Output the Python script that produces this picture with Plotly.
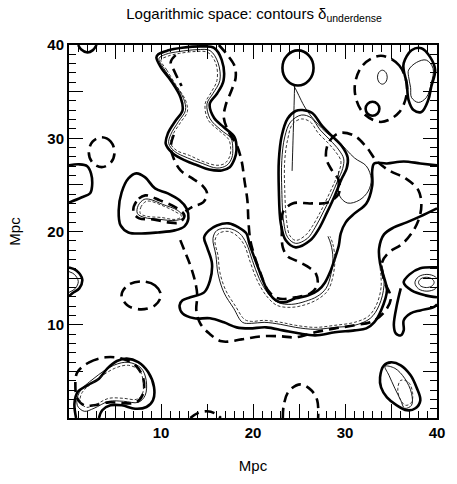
import plotly.graph_objects as go

# ---------------- data (Mpc) ----------------
# thick solid contours
ts_corner_x = [1.0, 1.3, 2.0, 2.6, 3.0]
ts_corner_y = [40.0, 39.55, 39.2, 39.45, 40.0]

ts_leftbump_x = [0, 1.12, 1.98, 2.4, 2.51, 2.3, 1.34, 0]
ts_leftbump_y = [27.1, 27.2, 27.0, 26.2, 24.9, 24.1, 23.65, 23.1]

ts_loop_x = [6.46, 7.32, 8.28, 9.35, 10.74, 12.02, 12.77, 12.98, 12.55, 11.49, 9.67, 8.28, 6.46, 5.61, 5.4, 5.72, 6.46]
ts_loop_y = [25.69, 26.23, 25.8, 24.62, 24.09, 23.34, 22.48, 21.41, 20.55, 20.12, 19.9, 19.8, 19.9, 20.65, 22.26, 24.19, 25.69]

ts_tower_x = [9.5, 10.0, 11.06, 12.13, 12.34, 11.6, 10.74, 10.52, 11.27, 12.66, 13.94, 15.22, 16.6, 17.47, 18.0, 18.2, 18.0, 16.8, 15.76, 15.3, 16.1, 16.8, 16.6, 15.76, 14.5, 12.3, 10.7, 9.7, 9.5]
ts_tower_y = [38.66, 37.59, 36.2, 34.37, 32.98, 31.9, 30.5, 29.4, 28.4, 27.6, 27.1, 26.65, 26.55, 26.9, 27.8, 28.7, 30.1, 31.2, 32.2, 33.7, 34.8, 36.2, 38.4, 39.7, 39.85, 39.7, 39.4, 39.0, 38.66]

ts_u_x = [40, 38.19, 36.7, 35.31, 34.24, 33.71, 33.81, 34.24, 34.56, 33.92, 33.17, 32.32, 31.04, 28.9, 26.76, 24.95, 23.24, 21.42, 19.6, 18.22, 16.83, 15.33, 13.62, 12.34, 12.02, 12.34, 13.19, 14.69, 15.33, 15.54, 15.01, 14.69, 15.22, 16.08, 17.36, 18.43, 19.28, 19.6, 20.14, 20.67, 21.21, 21.74, 22.49, 23.34, 24.63, 26.02, 27.08, 27.83, 28.37, 28.9, 29.33, 29.54, 30.08, 31.04, 32.32, 32.96, 32.96, 33.17, 34.56, 36.38, 38.19, 40]
ts_u_y = [22.48, 21.62, 20.98, 20.44, 19.69, 18.19, 16.58, 15.08, 13.69, 11.54, 10.26, 9.61, 9.4, 9.19, 8.86, 9.08, 9.4, 9.72, 9.61, 9.72, 10.26, 10.69, 10.69, 11.22, 12.08, 12.62, 12.94, 13.47, 14.76, 16.58, 18.3, 19.37, 20.12, 20.65, 20.87, 20.44, 19.8, 18.73, 17.22, 15.83, 14.44, 13.37, 12.62, 12.4, 12.83, 13.15, 13.69, 14.54, 15.62, 17.12, 18.51, 19.8, 20.98, 21.94, 23.01, 24.94, 26.55, 27.3, 27.3, 27.51, 27.3, 27.09]

ts_rtower_x = [25.37, 26.44, 27.51, 28.58, 29.65, 30.29, 30.18, 29.65, 28.9, 28.05, 27.19, 26.23, 24.63, 23.56, 23.02, 22.81, 22.81, 23.13, 23.77, 24.63, 25.37]
ts_rtower_y = [33.03, 32.71, 31.32, 30.25, 29.18, 27.94, 26.76, 25.69, 23.87, 22.05, 20.33, 19.05, 18.3, 19.05, 20.87, 24.41, 27.62, 30.3, 32.12, 32.92, 33.03]

ts_topcircle_x = [26.58, 26.08, 24.89, 23.7, 23.2, 23.7, 24.89, 26.08, 26.58]
ts_topcircle_y = [37.54, 38.87, 39.42, 38.87, 37.54, 36.21, 35.66, 36.21, 37.54]

ts_smallcircle_x = [33.74, 33.52, 32.99, 32.46, 32.24, 32.46, 32.99, 33.52, 33.74]
ts_smallcircle_y = [33.16, 33.69, 33.91, 33.69, 33.16, 32.63, 32.41, 32.63, 33.16]

ts_troval_x = [36.38, 37.23, 38.3, 39.26, 39.8, 39.37, 39.05, 38.3, 37.45, 36.91, 36.7, 36.38, 36.38]
ts_troval_y = [38.06, 39.44, 39.66, 38.7, 37.31, 35.5, 34.1, 32.82, 33.03, 34.1, 35.92, 37.31, 38.06]

ts_leftedge_x = [0, 0.8, 1.44, 1.12, 0.37, 0]
ts_leftedge_y = [16.15, 15.83, 14.86, 13.9, 13.37, 13.04]

ts_rightedge_x = [40, 38.19, 37.02, 36.38, 37.23, 38.73, 40]
ts_rightedge_y = [16.15, 16.05, 15.4, 14.54, 13.69, 13.15, 12.94]

ts_hook_x = [36.06, 35.63, 35.31, 35.52, 36.06, 36.38, 36.38, 37.13, 38.19, 39.58, 40]
ts_hook_y = [13.9, 12.08, 9.94, 9.08, 8.86, 9.4, 10.47, 11.22, 11.54, 11.87, 12.19]

ts_blblob_x = [0.77, 0.59, 0.94, 2.01, 3.26, 4.15, 5.21, 6.28, 7.53, 8.6, 9.24, 9.13, 8.42, 7.18, 5.75, 4.51, 3.61, 3.26]
ts_blblob_y = [0, 1.54, 2.79, 3.5, 4.22, 5.29, 6.11, 6.37, 6.0, 4.93, 3.32, 1.9, 1.18, 1.0, 1.36, 1.36, 0.83, 0]

ts_brellipse_x = [34.24, 34.99, 36.06, 37.13, 37.77, 38.19, 37.66, 36.7, 35.63, 34.56, 33.92, 33.81, 34.24]
ts_brellipse_y = [5.65, 5.97, 5.65, 4.58, 3.29, 1.9, 1.04, 0.83, 1.36, 2.22, 3.29, 4.36, 5.65]

# thick dashed contours
td_leftcircle_x = [4.95, 4.54, 3.55, 2.56, 2.15, 2.56, 3.55, 4.54, 4.95]
td_leftcircle_y = [28.5, 29.63, 30.1, 29.63, 28.5, 27.37, 26.9, 27.37, 28.5]

td_lowellipse_x = [9.99, 9.36, 7.85, 6.34, 5.71, 6.34, 7.85, 9.36, 9.99]
td_lowellipse_y = [13.15, 14.21, 14.65, 14.21, 13.15, 12.09, 11.65, 12.09, 13.15]

td_trcircle_x = [36.75, 35.9, 33.9, 31.9, 31.05, 31.9, 33.9, 35.9, 36.75]
td_trcircle_y = [35.3, 37.8, 38.85, 37.8, 35.3, 32.8, 31.75, 32.8, 35.3]

td_loop_x = [8.28, 7.32, 7.0, 7.64, 9.13, 10.74, 12.02, 12.55, 11.59, 9.88, 8.28]
td_loop_y = [23.87, 23.23, 22.05, 21.41, 21.3, 20.98, 20.98, 21.73, 22.58, 23.34, 23.87]

td_main_x = [16.29, 17.15, 18.0, 18.11, 17.68, 17.04, 16.83, 17.36, 18.22, 18.75, 19.07, 19.39, 19.5, 19.71, 20.14, 20.78, 21.63, 22.7, 24.63, 26.23, 26.98, 26.87, 25.91, 24.63, 23.77, 23.24, 23.13, 23.24, 24.3, 26.23, 28.15, 29.33, 29.33, 28.58, 27.94, 28.26, 29.43, 31.04, 32.32, 33.39, 34.78, 36.59, 37.98, 38.3, 37.98, 37.23, 36.16, 34.78, 34.03, 34.24, 34.99, 34.24, 32.96, 31.04, 28.9, 26.76, 24.63, 23.02, 20.89, 18.75, 16.61, 15.22, 14.26, 13.84, 13.94, 13.73, 13.19, 12.55, 12.02]
td_main_y = [40.0, 39.02, 37.74, 36.46, 35.17, 33.57, 32.18, 30.68, 29.29, 27.62, 25.48, 23.34, 21.19, 19.05, 17.44, 15.62, 13.69, 12.83, 12.94, 13.37, 14.22, 15.4, 16.26, 16.9, 17.33, 18.3, 20.12, 22.05, 23.01, 23.01, 23.12, 24.09, 25.48, 26.55, 27.94, 29.61, 30.57, 30.25, 29.07, 27.62, 26.55, 25.69, 24.41, 22.8, 21.19, 19.8, 18.62, 17.76, 16.69, 14.76, 12.83, 11.33, 10.36, 9.94, 9.61, 9.19, 8.65, 8.76, 8.76, 8.43, 8.22, 9.08, 10.15, 11.54, 13.15, 14.54, 16.37, 17.97, 19.26]

td_towerleft_x = [11.38, 11.06, 11.38, 12.13, 13.41, 14.48, 15.01, 14.58, 13.51, 12.66]
td_towerleft_y = [30.36, 29.07, 27.84, 26.55, 25.69, 24.94, 24.09, 23.12, 22.69, 22.16]

td_towertop_x = [11.59, 11.06, 11.49, 12.24]
td_towertop_y = [38.91, 38.16, 37.1, 35.6]

td_blblob_x = [0.9, 2.19, 4.0, 5.61, 7.21, 8.07, 8.07, 7.32, 5.93, 4.33, 2.72, 1.66, 0.9, 0.69, 0.9]
td_blblob_y = [4.9, 5.97, 6.51, 6.4, 5.65, 4.26, 2.65, 1.68, 1.58, 1.68, 1.36, 1.36, 2.11, 3.5, 4.9]

td_arc1_x = [13.19, 13.94, 15.01, 15.87, 16.51]
td_arc1_y = [0, 0.5, 0.72, 0.5, 0]

td_arc2_x = [23.24, 23.34, 23.88, 25.16, 26.34, 26.98, 27.08]
td_arc2_y = [0, 1.36, 2.86, 3.61, 2.97, 1.9, 0]

# thin solid contours
tn_tower_x = [9.78, 10.31, 11.38, 12.45, 12.66, 11.91, 11.06, 10.84, 11.49, 12.87, 14.48, 16.08, 17.15, 17.7, 17.8, 17.6, 16.5, 15.33, 15.0, 15.65, 16.4, 16.2, 15.33, 13.94, 12.0, 10.5, 9.78]
tn_tower_y = [38.55, 37.48, 35.98, 34.27, 32.98, 31.8, 30.4, 29.44, 28.58, 27.9, 27.3, 26.8, 27.1, 27.9, 28.9, 30.0, 30.9, 32.1, 33.7, 34.8, 36.2, 38.1, 39.4, 39.5, 39.3, 39.0, 38.55]

tn_loop_x = [8.17, 7.53, 7.43, 8.17, 9.88, 11.59, 12.45, 11.81, 10.2, 8.82, 8.17]
tn_loop_y = [23.44, 22.8, 21.94, 21.51, 21.3, 21.19, 21.51, 22.26, 22.9, 23.44, 23.44]

tn_rtower_x = [25.27, 26.34, 27.3, 28.37, 29.33, 29.86, 29.75, 29.22, 28.47, 27.62, 26.76, 25.91, 24.63, 23.77, 23.34, 23.13, 23.13, 23.45, 24.09, 25.27]
tn_rtower_y = [32.49, 32.18, 30.89, 29.82, 28.75, 27.79, 26.76, 25.48, 23.76, 22.05, 20.44, 19.26, 18.73, 19.37, 20.98, 24.41, 27.62, 30.14, 31.75, 32.49]

tn_u_x = [34.03, 34.24, 33.71, 32.75, 31.04, 28.9, 26.76, 24.63, 23.02, 21.21, 19.82, 18.86, 17.9, 16.83, 16.19, 15.97, 15.65, 16.08, 17.36, 18.54, 19.28, 19.93, 20.67, 21.63, 22.7, 24.2, 25.69, 26.98, 27.94, 28.47, 28.69, 28.47, 28.15]
tn_u_y = [16.37, 14.22, 12.08, 10.69, 9.94, 9.72, 9.51, 9.72, 10.04, 10.26, 10.15, 10.26, 11.76, 13.47, 15.51, 17.44, 19.26, 20.12, 20.33, 19.8, 18.73, 16.9, 14.97, 13.37, 12.4, 12.19, 12.51, 13.04, 13.9, 15.4, 17.12, 18.62, 19.48]

tn_diag_x = [24.3, 24.63, 25.69, 26.76, 28.15, 29.22, 31.04, 32.32, 32.85, 32.53, 31.57, 30.29, 29.43, 29.22, 29.33]
tn_diag_y = [35.82, 35.28, 33.24, 31.84, 30.46, 29.71, 27.88, 27.02, 25.63, 24.34, 23.37, 23.05, 23.8, 25.4, 26.48]

tn_vert_x = [24.52, 24.45, 24.35, 24.25]
tn_vert_y = [35.6, 33.0, 29.8, 26.5]

tn_troval_x = [36.91, 37.77, 38.84, 39.58, 39.37, 38.84, 37.98, 37.23, 37.13, 36.91, 36.91]
tn_troval_y = [37.31, 38.13, 38.38, 37.48, 35.87, 34.37, 33.84, 34.37, 35.44, 36.62, 37.31]

tn_trsmall_x = [34.59, 34.43, 34.06, 33.69, 33.53, 33.69, 34.06, 34.43, 34.59]
tn_trsmall_y = [36.55, 37.08, 37.3, 37.08, 36.55, 36.02, 35.8, 36.02, 36.55]

tn_leftedge_x = [0, 0.59, 1.01, 0.69, 0]
tn_leftedge_y = [15.7, 15.4, 14.65, 13.9, 13.47]

tn_reA_x = [39.69, 39.44, 38.84, 38.24, 37.99, 38.24, 38.84, 39.44, 39.69]
tn_reA_y = [14.54, 14.93, 15.09, 14.93, 14.54, 14.15, 13.99, 14.15, 14.54]
tn_reB_x = [40.2, 39.82, 38.9, 37.98, 37.6, 37.98, 38.9, 39.82, 40.2]
tn_reB_y = [14.5, 15.14, 15.4, 15.14, 14.5, 13.86, 13.6, 13.86, 14.5]

tn_blblob_x = [1.12, 2.72, 4.86, 6.46, 7.85, 8.39, 8.28, 7.53, 5.93, 4.33, 2.72, 1.66, 0.9, 1.12]
tn_blblob_y = [2.75, 4.26, 5.65, 5.97, 5.33, 4.04, 2.43, 1.68, 1.79, 1.79, 1.04, 0.72, 1.36, 2.75]

tn_brellipse_x = [34.35, 35.42, 36.48, 37.23, 37.23, 36.48, 36.06, 35.42, 34.78, 34.35]
tn_brellipse_y = [5.54, 5.33, 4.26, 2.65, 1.36, 1.04, 1.9, 3.18, 4.58, 5.54]

# thin dashed contours
tdn_tower_x = [9.99, 10.63, 11.59, 12.66, 12.87, 12.13, 11.27, 11.06, 11.7, 13.09, 14.58, 16.08, 16.93, 17.47, 17.57, 17.36, 16.3, 15.1, 14.8, 15.44, 16.08, 15.97, 15.1, 13.7, 12.0, 10.74, 9.99]
tdn_tower_y = [38.38, 37.31, 35.76, 34.09, 32.87, 31.7, 30.35, 29.44, 28.69, 28.16, 27.5, 27.1, 27.3, 28.05, 28.9, 29.87, 30.83, 32.0, 33.7, 34.9, 36.2, 38.0, 39.2, 39.3, 39.1, 38.8, 38.38]

tdn_loop_x = [8.39, 7.85, 7.75, 8.5, 9.99, 11.59, 12.24, 11.49, 10.1, 8.92, 8.39]
tdn_loop_y = [23.23, 22.69, 21.94, 21.62, 21.51, 21.3, 21.62, 22.16, 22.8, 23.23, 23.23]

tdn_rtower_x = [25.27, 26.23, 27.08, 28.15, 28.99, 29.54, 29.43, 28.9, 28.15, 27.3, 26.44, 25.69, 24.63, 23.99, 23.66, 23.45, 23.45, 23.77, 24.3, 25.27]
tdn_rtower_y = [32.07, 31.75, 30.57, 29.5, 28.53, 27.62, 26.66, 25.37, 23.76, 22.05, 20.55, 19.58, 19.05, 19.58, 21.09, 24.41, 27.62, 29.87, 31.53, 32.07]

tdn_u_x = [33.81, 33.92, 33.39, 32.53, 31.04, 28.9, 26.76, 24.63, 23.02, 21.21, 19.82, 19.07, 18.11, 17.04, 16.4, 16.19, 15.87, 16.29, 17.36, 18.33, 19.07, 19.71, 20.46, 21.42, 22.6, 24.2, 25.8, 27.19, 28.15, 28.69, 28.9, 28.69, 28.37]
tdn_u_y = [16.15, 14.01, 12.08, 10.9, 10.26, 9.94, 9.72, 9.94, 10.26, 10.47, 10.36, 10.58, 11.97, 13.69, 15.62, 17.44, 19.05, 19.8, 20.01, 19.48, 18.51, 16.69, 14.76, 13.15, 12.08, 11.87, 12.19, 12.83, 13.69, 15.19, 17.01, 18.62, 19.48]

tdn_blblob_x = [1.44, 2.94, 4.97, 6.46, 7.64, 8.07, 7.96, 7.32, 5.93, 4.33, 2.94, 1.87, 1.23, 1.44]
tdn_blblob_y = [2.75, 4.04, 5.33, 5.65, 5.11, 3.93, 2.54, 2.0, 2.11, 2.11, 1.47, 1.15, 1.79, 2.75]

tdn_brinner_x = [36.06, 36.91, 37.34, 37.23, 36.59, 35.95, 35.74, 36.06]
tdn_brinner_y = [4.04, 3.82, 2.75, 1.68, 1.36, 2.11, 3.18, 4.04]

# axis ticks
major_ticks = [5, 10, 15, 20, 25, 30, 35, 40]
major_labels = [" ", "10", " ", "20", " ", "30", " ", "40"]

# ---------------- figure ----------------
STYLE = {
    "thick": dict(color="black", width=2.6, dash="solid"),
    "thickdash": dict(color="black", width=2.6, dash="10px,6px"),
    "thin": dict(color="black", width=0.9, dash="solid"),
    "thindash": dict(color="#222", width=0.9, dash="3px,2px"),
}

contours = [
    (ts_corner_x, ts_corner_y, "thick"),
    (ts_leftbump_x, ts_leftbump_y, "thick"),
    (ts_loop_x, ts_loop_y, "thick"),
    (ts_tower_x, ts_tower_y, "thick"),
    (ts_u_x, ts_u_y, "thick"),
    (ts_rtower_x, ts_rtower_y, "thick"),
    (ts_topcircle_x, ts_topcircle_y, "thick"),
    (ts_smallcircle_x, ts_smallcircle_y, "thick"),
    (ts_troval_x, ts_troval_y, "thick"),
    (ts_leftedge_x, ts_leftedge_y, "thick"),
    (ts_rightedge_x, ts_rightedge_y, "thick"),
    (ts_hook_x, ts_hook_y, "thick"),
    (ts_blblob_x, ts_blblob_y, "thick"),
    (ts_brellipse_x, ts_brellipse_y, "thick"),
    (td_leftcircle_x, td_leftcircle_y, "thickdash"),
    (td_lowellipse_x, td_lowellipse_y, "thickdash"),
    (td_trcircle_x, td_trcircle_y, "thickdash"),
    (td_loop_x, td_loop_y, "thickdash"),
    (td_main_x, td_main_y, "thickdash"),
    (td_towerleft_x, td_towerleft_y, "thickdash"),
    (td_towertop_x, td_towertop_y, "thickdash"),
    (td_blblob_x, td_blblob_y, "thickdash"),
    (td_arc1_x, td_arc1_y, "thickdash"),
    (td_arc2_x, td_arc2_y, "thickdash"),
    (tn_tower_x, tn_tower_y, "thin"),
    (tn_loop_x, tn_loop_y, "thin"),
    (tn_rtower_x, tn_rtower_y, "thin"),
    (tn_u_x, tn_u_y, "thin"),
    (tn_diag_x, tn_diag_y, "thin"),
    (tn_vert_x, tn_vert_y, "thin"),
    (tn_troval_x, tn_troval_y, "thin"),
    (tn_trsmall_x, tn_trsmall_y, "thin"),
    (tn_leftedge_x, tn_leftedge_y, "thin"),
    (tn_reA_x, tn_reA_y, "thin"),
    (tn_reB_x, tn_reB_y, "thin"),
    (tn_blblob_x, tn_blblob_y, "thin"),
    (tn_brellipse_x, tn_brellipse_y, "thin"),
    (tdn_tower_x, tdn_tower_y, "thindash"),
    (tdn_loop_x, tdn_loop_y, "thindash"),
    (tdn_rtower_x, tdn_rtower_y, "thindash"),
    (tdn_u_x, tdn_u_y, "thindash"),
    (tdn_blblob_x, tdn_blblob_y, "thindash"),
    (tdn_brinner_x, tdn_brinner_y, "thindash"),
]

fig = go.Figure()
for cx, cy, st in contours:
    fig.add_trace(go.Scatter(
        x=cx, y=cy, mode="lines",
        line=dict(shape="spline", smoothing=1.0, **STYLE[st]),
        hoverinfo="skip", showlegend=False,
    ))

# dummy trace so mirrored axes render
fig.add_trace(go.Scatter(x=[None], y=[None], xaxis="x2", yaxis="y2",
                         showlegend=False, hoverinfo="skip"))

FONT = "Liberation Sans, Arial, Helvetica, sans-serif"
tickfont = dict(family=FONT, size=15, color="black", weight="bold")

def axis_common(**kw):
    d = dict(
        range=[0, 40], showgrid=False, zeroline=False,
        showline=True, linewidth=2, linecolor="black",
        ticks="inside", ticklen=14, tickwidth=1.2, tickcolor="black",
        tickmode="array", tickvals=major_ticks, ticktext=major_labels,
        minor=dict(dtick=1, ticklen=7, tickwidth=1, tickcolor="black", ticks="inside"),
        tickfont=tickfont, fixedrange=True,
    )
    d.update(kw)
    return d

fig.update_layout(
    width=457, height=484,
    margin=dict(l=69, r=13, t=45, b=66),
    paper_bgcolor="white", plot_bgcolor="white",
    font=dict(family=FONT, color="black"),
    title=dict(text="Logarithmic space: contours δ<sub>underdense</sub>",
               x=0.556, xanchor="center", y=0.972, yanchor="middle",
               font=dict(family=FONT, size=15, color="black")),
    xaxis=axis_common(title=dict(text="Mpc", font=dict(family=FONT, size=15), standoff=20)),
    yaxis=axis_common(title=dict(text="Mpc", font=dict(family=FONT, size=15), standoff=23)),
    xaxis2=axis_common(overlaying="x", side="top", showticklabels=False, anchor="y2"),
    yaxis2=axis_common(overlaying="y", side="right", showticklabels=False, anchor="x2"),
)

fig.write_html("out.html")
